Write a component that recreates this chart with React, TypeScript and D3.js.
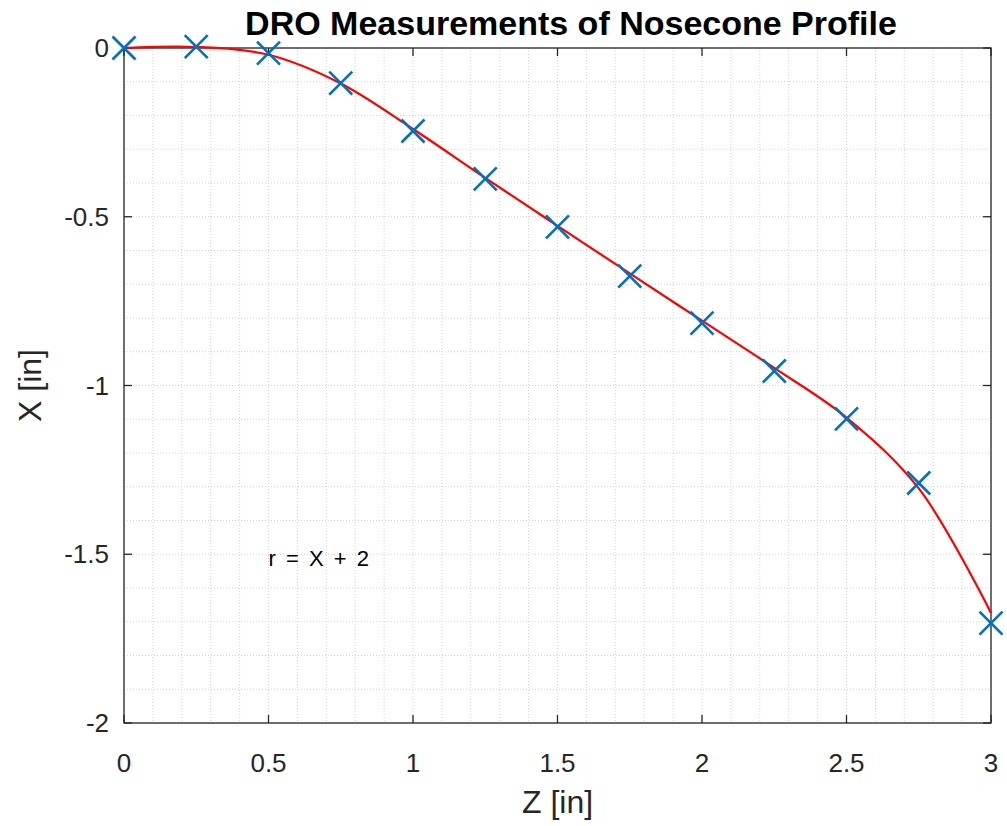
import React from "react";
import * as d3 from "d3";

const zMeas = [0, 0.25, 0.5, 0.75, 1.0, 1.25, 1.5, 1.75, 2.0, 2.25, 2.5, 2.75, 3.0];
const xMeas = [0, 0.004, -0.015, -0.104, -0.246, -0.388, -0.53, -0.676, -0.815, -0.957, -1.099, -1.289, -1.704];
const zFit = [0, 0.25, 0.5, 0.75, 1.0, 1.25, 1.5, 1.75, 2.0, 2.25, 2.5, 2.75, 3.0];
const xFit = [0, 0.003, -0.02, -0.105, -0.24, -0.385, -0.527, -0.668, -0.808, -0.948, -1.095, -1.305, -1.674];
const xTicks = [0, 0.5, 1, 1.5, 2, 2.5, 3];
const yTicks = [0, -0.5, -1, -1.5, -2];
const titleText = "DRO Measurements of Nosecone Profile";
const xLabel = "Z [in]";
const yLabel = "X [in]";
const annotation = "r = X + 2";

const W = 1007, H = 826;
const L = 124, R = 991, T = 48, B = 723;
const FONT = "'Liberation Sans', Arial, Helvetica, sans-serif";
const TXT = "#262626";

export default function App() {
  const x = d3.scaleLinear().domain([0, 3]).range([L, R]);
  const y = d3.scaleLinear().domain([-2, 0]).range([B, T]);
  const minorX = d3.range(0, 31).map((i) => i / 10);
  const minorY = d3.range(-20, 1).map((i) => i / 10);
  const line = d3
    .line<number>()
    .x((_, i) => x(zFit[i]))
    .y((d) => y(d))
    .curve(d3.curveCatmullRom.alpha(0.5));
  const ms = 11.5;
  return (
    <svg width={W} height={H} style={{ position: "absolute", left: 0, top: 0, background: "#fff" }}>
      <rect x={0} y={0} width={W} height={H} fill="#fff" />
      {/* grid */}
      <g stroke="#d2d2d2" strokeWidth={1} strokeDasharray="1,2">
        {minorX.map((v, i) => (
          <line key={"gx" + i} x1={x(v)} x2={x(v)} y1={T} y2={B} />
        ))}
        {minorY.map((v, i) => (
          <line key={"gy" + i} x1={L} x2={R} y1={y(v)} y2={y(v)} />
        ))}
      </g>
      {/* frame */}
      <rect x={L} y={T} width={R - L} height={B - T} fill="none" stroke={TXT} strokeWidth={1.3} />
      {/* ticks */}
      <g stroke={TXT} strokeWidth={1.3}>
        {xTicks.map((v, i) => (
          <g key={"tx" + i}>
            <line x1={x(v)} x2={x(v)} y1={B} y2={B - 8} />
            <line x1={x(v)} x2={x(v)} y1={T} y2={T + 8} />
          </g>
        ))}
        {yTicks.map((v, i) => (
          <g key={"ty" + i}>
            <line x1={L} x2={L + 8} y1={y(v)} y2={y(v)} />
            <line x1={R} x2={R - 8} y1={y(v)} y2={y(v)} />
          </g>
        ))}
      </g>
      {/* tick labels */}
      <g fill={TXT} fontFamily={FONT} fontSize={26}>
        {xTicks.map((v, i) => (
          <text key={"lx" + i} x={x(v)} y={772} textAnchor="middle">
            {String(v)}
          </text>
        ))}
        {yTicks.map((v, i) => (
          <text key={"ly" + i} x={109} y={y(v)} dy="0.35em" textAnchor="end">
            {String(v)}
          </text>
        ))}
      </g>
      {/* axis labels */}
      <text x={(L + R) / 2} y={813} textAnchor="middle" fill={TXT} fontFamily={FONT} fontSize={32}>
        {xLabel}
      </text>
      <text
        transform={`translate(41,${(T + B) / 2}) rotate(-90)`}
        textAnchor="middle"
        fill={TXT}
        fontFamily={FONT}
        fontSize={32}
      >
        {yLabel}
      </text>
      {/* title */}
      <text x={571} y={35} textAnchor="middle" fill="#000" fontFamily={FONT} fontWeight="bold" fontSize={34}>
        {titleText}
      </text>
      {/* fit line */}
      <path d={line(xFit) || ""} fill="none" stroke="#ff0000" strokeWidth={2.2} />
      {/* markers */}
      <g stroke="#0072BD" strokeWidth={2.6}>
        {zMeas.map((z, i) => {
          const cx = x(z), cy = y(xMeas[i]);
          return (
            <g key={"m" + i}>
              <line x1={cx - ms} y1={cy - ms} x2={cx + ms} y2={cy + ms} />
              <line x1={cx - ms} y1={cy + ms} x2={cx + ms} y2={cy - ms} />
            </g>
          );
        })}
      </g>
      {/* annotation */}
      <text x={x(0.5)} y={y(-1.5) + 12} fill="#000" fontFamily={FONT} fontSize={22} wordSpacing={4}>
        {annotation}
      </text>
    </svg>
  );
}
